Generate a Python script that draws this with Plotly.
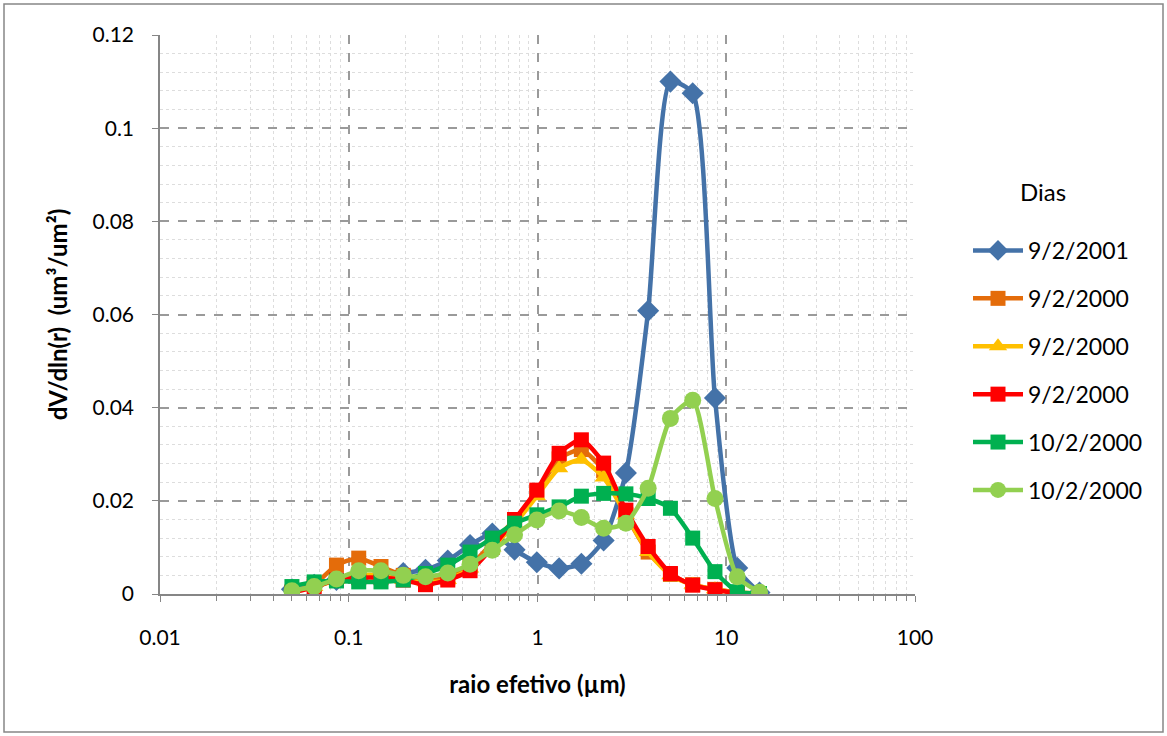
import plotly.graph_objects as go

radius = [0.05, 0.065604, 0.086077, 0.112939, 0.148184, 0.194429, 0.255105, 0.334716,
          0.439173, 0.576227, 0.756052, 0.991996, 1.301571, 1.707757, 2.240702, 2.939966,
          3.857452, 5.06126, 6.640745, 8.713145, 11.432287, 15.0]

s_blue = [0.0010, 0.0020, 0.0030, 0.0035, 0.0040, 0.0045, 0.0052, 0.0072, 0.0105, 0.0130, 0.0095,
          0.0068, 0.0055, 0.0065, 0.0115, 0.0260, 0.0608, 0.1100, 0.1075, 0.0421, 0.0056, 0.0003]
s_orange = [0.0005, 0.0020, 0.0062, 0.0077, 0.0059, 0.0040, 0.0030, 0.0035, 0.0060, 0.0110, 0.0160,
            0.0220, 0.0290, 0.0310, 0.0265, 0.0170, 0.0090, 0.0042, 0.0020, 0.0010, 0.0003, 0.0001]
s_yellow = [0.0005, 0.0015, 0.0030, 0.0040, 0.0040, 0.0030, 0.0025, 0.0030, 0.0055, 0.0100, 0.0150,
            0.0210, 0.0270, 0.0288, 0.0250, 0.0170, 0.0090, 0.0040, 0.0020, 0.0010, 0.0003, 0.0001]
s_red = [0.0003, 0.0015, 0.0030, 0.0035, 0.0035, 0.0030, 0.0020, 0.0030, 0.0050, 0.0100, 0.0160,
         0.0223, 0.0302, 0.0331, 0.0281, 0.0180, 0.0102, 0.0044, 0.0019, 0.0009, 0.0002, 0.0001]
s_dgreen = [0.0016, 0.0026, 0.0028, 0.0026, 0.0026, 0.0030, 0.0044, 0.0062, 0.0090, 0.0120, 0.0152,
            0.0170, 0.0187, 0.0210, 0.0216, 0.0215, 0.0205, 0.0184, 0.0120, 0.0048, 0.0005, 0.0001]
s_lgreen = [0.0007, 0.0016, 0.0032, 0.0050, 0.0050, 0.0040, 0.0037, 0.0045, 0.0064, 0.0094, 0.0127,
            0.0159, 0.0178, 0.0164, 0.0141, 0.0152, 0.0227, 0.0377, 0.0416, 0.0205, 0.0037, 0.0004]

names = ["9/2/2001", "9/2/2000", "9/2/2000", "9/2/2000", "10/2/2000", "10/2/2000"]
series = [s_blue, s_orange, s_yellow, s_red, s_dgreen, s_lgreen]
colors = ["#4472A8", "#E46C0A", "#FFC000", "#FF0000", "#00B050", "#92D050"]
symbols = ["diamond", "square", "triangle-up", "square", "square", "circle"]
msizes = [17, 15, 16, 15, 15, 17]

FONT = "Lato, 'Open Sans', sans-serif"

fig = go.Figure()
for i, (nm, ys, c, sym, ms) in enumerate(zip(names, series, colors, symbols, msizes)):
    fig.add_trace(go.Scatter(
        x=radius, y=ys, name=nm, mode="lines+markers",
        line=dict(color=c, width=4.5, shape="spline", smoothing=0.6),
        marker=dict(color=c, symbol=sym, size=ms),
        legendgroup="g%d" % i,
    ))

L, R, T, B = 160, 915, 35, 594
W, H = 1167, 736

def px2paper_x(px):
    return (px - L) / (R - L)

def px2paper_y(py):
    return (B - py) / (B - T)

fig.update_layout(
    width=W, height=H,
    margin=dict(l=L, r=W - R, t=T, b=H - B),
    paper_bgcolor="white", plot_bgcolor="white",
    font=dict(family=FONT, size=21, color="#000000"),
    showlegend=True,
    legend=dict(
        x=px2paper_x(968), y=px2paper_y(229), xanchor="left", yanchor="top",
        font=dict(size=23), tracegroupgap=15, itemwidth=50,
        bgcolor="rgba(0,0,0,0)",
    ),
    xaxis=dict(
        type="log", range=[-2, 2], dtick=1,
        tickvals=[0.01, 0.1, 1, 10, 100], ticktext=["0.01", "0.1", "1", "10", "100"],
        showline=True, linecolor="#868686", linewidth=1.5,
        ticks="outside", ticklen=6, tickcolor="#868686",
        showgrid=True, gridcolor="#9A9A9A", griddash="dash", gridwidth=1.5,
        minor=dict(showgrid=True, gridcolor="#DDDDDD", griddash="dot", gridwidth=1,
                   ticks="outside", ticklen=5, tickcolor="#868686",
                   tickvals=[m * 10 ** e for e in [-2, -1, 0, 1] for m in range(2, 10)]),
        zeroline=False,
        ticklabelstandoff=18,
        title=dict(text="<b>raio efetivo (µm)</b>", font=dict(size=24), standoff=28),
        tickfont=dict(size=21),
    ),
    yaxis=dict(
        range=[0, 0.12], dtick=0.02, tickformat="~g",
        showline=True, linecolor="#868686", linewidth=1.5,
        ticks="outside", ticklen=6, tickcolor="#868686",
        showgrid=True, gridcolor="#9A9A9A", griddash="dash", gridwidth=1.5,
        minor=dict(showgrid=True, gridcolor="#DDDDDD", griddash="dot", gridwidth=1, dtick=0.004),
        zeroline=False,
        ticklabelstandoff=14,
        title=dict(text="<b>dV/dln(r)  (um³/um²)</b>", font=dict(size=24), standoff=18),
        tickfont=dict(size=21),
    ),
    annotations=[dict(text="Dias", xref="paper", yref="paper",
                      x=px2paper_x(1043), y=px2paper_y(192), xanchor="center", yanchor="middle",
                      showarrow=False, font=dict(size=24))],
)

fig.add_shape(type="rect", xref="paper", yref="paper",
              x0=px2paper_x(4), x1=px2paper_x(1163), y0=px2paper_y(732), y1=px2paper_y(4),
              line=dict(color="#868686", width=1.5), fillcolor="rgba(0,0,0,0)", layer="below")

fig.write_html("out.html")
